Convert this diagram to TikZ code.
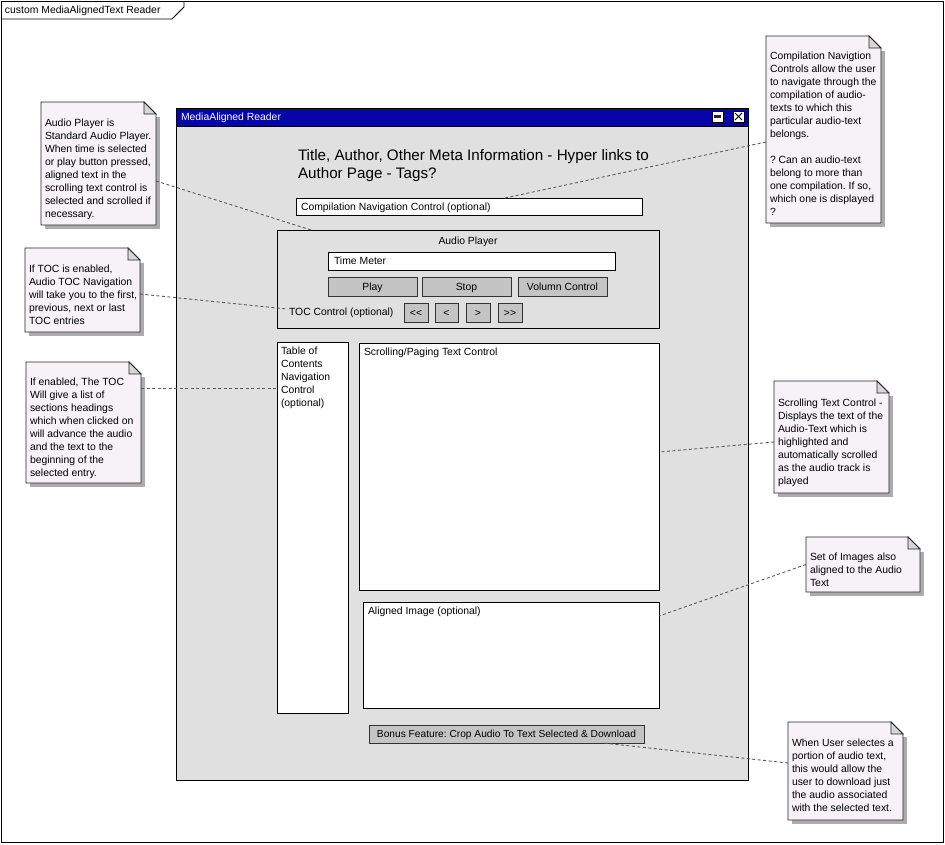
\documentclass[tikz,border=0pt]{standalone}
\usepackage{fontspec}
\setmainfont{Liberation Sans}
\usetikzlibrary{fit,calc}
\definecolor{winbg}{RGB}{224,224,224}
\definecolor{btn}{RGB}{196,196,196}
\definecolor{notefill}{RGB}{246,242,246}
\definecolor{shadowc}{RGB}{172,172,172}
\definecolor{titlebar}{RGB}{6,6,166}
\definecolor{foldc}{RGB}{214,214,214}
\definecolor{connc}{RGB}{90,90,90}
\newcommand\mknote[7]{%
  \fill[shadowc] ({#2+4},{#3+15}) rectangle ({#4+4},{#5+4});
  \filldraw[notebody] (#2,#3) -- ({#4-12},#3) -- (#4,{#3+12}) -- (#4,#5) -- (#2,#5) -- cycle;
  \filldraw[notefold] ({#4-12},#3) -- ({#4-12},{#3+12}) -- (#4,{#3+12}) -- cycle;
  \node[fit={(#2,#3)(#4,#5)}] (#1) {};
  \node[multi, anchor=north west] at ({#2+4},#6) {#7};
}
\newcommand\mkbtn[4]{% name, corner1, corner2, text
  \node[btnbox, fit={#2 #3}] (#1) {};
  \node[sl] (#1text) at (#1.center) {#4};
}
\begin{document}
\frenchspacing
\begin{tikzpicture}[x=1pt,y=-1pt,
  every node/.style={font=\fontsize{10.4}{13}\selectfont, inner sep=0pt, outer sep=0pt},
  sl/.style={text height=7.5pt, text depth=0pt},
  multi/.style={align=left},
  winbox/.style={draw=black, fill=winbg, line width=0.8pt},
  whitebox/.style={draw=black, fill=white, line width=0.8pt},
  btnbox/.style={draw=black!80, fill=btn, line width=0.8pt},
  notebody/.style={draw=black!85, fill=notefill, line width=0.8pt},
  notefold/.style={draw=black!85, fill=foldc, line width=0.8pt},
  conn/.style={draw=connc, line width=0.9pt, dash pattern=on 3pt off 2.5pt}]
\useasboundingbox (0,0) rectangle (945,844);
\fill[white] (0,0) rectangle (945,844);

% frame
\node[draw=black, line width=0.8pt, fit={(1,1)(943,842)}] (frame) {};
\draw[line width=0.8pt] (1,19) -- (172,19) -- (184,7) -- (184,1);
\node[sl, anchor=west] (framelbl) at (5,10) {custom MediaAlignedText Reader};

% window
\node[winbox, fit={(176,108)(748,780)}] (win) {};
\node[fill=titlebar, draw=black, line width=0.8pt, fit={(176,108)(748,126)}] (titlebar) {};
\node[sl, anchor=west, text=white] (wintitle) at (181,117) {MediaAligned Reader};
\node[draw=black, fill=white, line width=0.6pt, fit={(712,111)(723,122)}] (maxbtn) {};
\fill[black!85] (714,115) rectangle (721,118);
\node[draw=black, fill=white, line width=0.6pt, fit={(733,111)(744,122)}] (closebtn) {};
\draw[black, line width=0.9pt] (735,113) -- (742,120) (742,113) -- (735,120);

% title
\node[multi, anchor=north west, font=\fontsize{15.2}{18}\selectfont] (title) at (298,149.5)
  {Title, Author, Other Meta Information - Hyper links to\\Author Page - Tags?};

% compilation nav
\node[whitebox, fit={(296,198)(642,215)}] (cnc) {};
\node[sl, anchor=west] (cnctext) at (301,207) {Compilation Navigation Control (optional)};

% audio player
\node[winbox, fit={(277,230)(659,328)}] (ap) {};
\node[sl] (aptitle) at (468,241) {Audio Player};
\node[whitebox, fit={(328,252)(615,270)}] (tm) {};
\node[sl, anchor=west] (tmtext) at (334,261) {Time Meter};
\mkbtn{play}{(328,277)}{(417,296)}{Play}
\mkbtn{stop}{(422,277)}{(511,296)}{Stop}
\mkbtn{vol}{(518,277)}{(607,296)}{Volumn Control}
\node[sl, anchor=west] (tocc) at (289,312) {TOC Control (optional)};
\mkbtn{first}{(404,303)}{(428,322)}{<\kern0pt<}
\mkbtn{prev}{(435,303)}{(458,322)}{<}
\mkbtn{next}{(466,303)}{(490,322)}{>}
\mkbtn{last}{(498,303)}{(522,322)}{>\kern0pt>}

% TOC
\node[whitebox, fit={(277,342)(348,713)}] (toc) {};
\node[multi, anchor=north west] (toctext) at (281,346.5) {Table of\\Contents\\Navigation\\Control\\(optional)};

% scrolling
\node[whitebox, fit={(359,343)(659,590)}] (scroll) {};
\node[sl, anchor=west] (scrolltext) at (364,352) {Scrolling/Paging Text Control};

% aligned image
\node[whitebox, fit={(363,602)(659,708)}] (img) {};
\node[sl, anchor=west] (imgtext) at (368,611) {Aligned Image (optional)};

% bonus
\node[btnbox, fit={(369,725)(644,743)}] (bonus) {};
\node[sl, font=\fontsize{10.2}{12}\selectfont] (bonustext) at (bonus.center) {Bonus Feature: Crop Audio To Text Selected \& Download};

% notes
\mknote{n1}{41}{102}{156}{225}{118.5}{Audio Player is\\Standard Audio Player.\\When time is selected\\or play button pressed,\\aligned text in the\\scrolling text control is\\selected and scrolled if\\necessary.}
\mknote{n2}{766}{36}{881}{223}{51.5}{Compilation Navigtion\\Controls allow the user\\to navigate through the\\compilation of audio-\\texts to which this\\particular audio-text\\belongs.\\[13pt]? Can an audio-text\\belong to more than\\one compilation. If so,\\which one is displayed\\?}
\mknote{n3}{25}{248}{140}{332}{264.5}{If TOC is enabled,\\Audio TOC Navigation\\will take you to the first,\\previous, next or last\\TOC entries}
\mknote{n4}{26}{362}{141}{483}{377.5}{If enabled, The TOC\\Will give a list of\\sections headings\\which when clicked on\\will advance the audio\\and the text to the\\beginning of the\\selected entry.}
\mknote{n5}{774}{381}{889}{493}{398.5}{Scrolling Text Control -\\Displays the text of the\\Audio-Text which is\\highlighted and\\automatically scrolled\\as the audio track is\\played}
\mknote{n6}{806}{537}{920}{592}{552.5}{Set of Images also\\aligned to the Audio\\Text}
\mknote{n7}{788}{722}{903}{820}{738.5}{When User selectes a\\portion of audio text,\\this would allow the\\user to download just\\the audio associated\\with the selected text.}

% connectors
\draw[conn] ([yshift=-17.5pt]n1.east) -- ([xshift=34pt]ap.north west);
\draw[conn] ([yshift=-12.5pt]n2.west) -- ([xshift=209pt]cnc.north west);
\draw[conn] ([yshift=-4pt]n3.east) -- ([xshift=-2pt,yshift=3pt]tocc.west);
\draw[conn] ([yshift=34.5pt]n4.east) -- ([yshift=139.5pt]toc.west);
\draw[conn] ([yshift=-5pt]n5.west) -- ([yshift=14.5pt]scroll.east);
\draw[conn] (n6.west) -- ([yshift=39pt]img.east);
\draw[conn] ([yshift=8pt]n7.west) -- ([xshift=234pt]bonus.south west);
\end{tikzpicture}
\end{document}
